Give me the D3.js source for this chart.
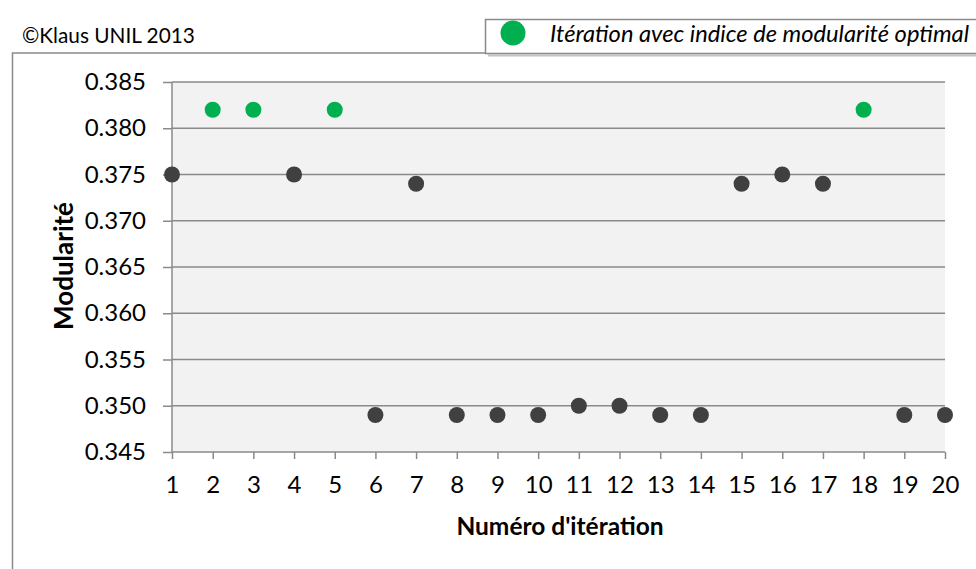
<!DOCTYPE html>
<html>
<head>
<meta charset="utf-8">
<script src="https://cdn.jsdelivr.net/npm/d3@7"></script>
<style>
  html, body { margin: 0; padding: 0; background: #fff; }
  svg { display: block; font-family: Lato, "Open Sans", sans-serif; }
</style>
</head>
<body>
<svg id="chart" width="976" height="569"></svg>
<script>
// Iteration numbers and modularity values
const iterations = [1,2,3,4,5,6,7,8,9,10,11,12,13,14,15,16,17,18,19,20];
const modularity = [0.375,0.382,0.382,0.375,0.382,0.349,0.374,0.349,0.349,0.349,
                    0.350,0.350,0.349,0.349,0.374,0.375,0.374,0.382,0.349,0.349];
// true where the iteration reached the optimal modularity
const optimal = [false,true,true,false,true,false,false,false,false,false,
                 false,false,false,false,false,false,false,true,false,false];
const yTicks = [0.345,0.350,0.355,0.360,0.365,0.370,0.375,0.380,0.385];

const svg = d3.select("#chart");
const plot = { left: 172, right: 945, top: 82, bottom: 452 };
const axisGrey = "#8a8a8a";

const x = d3.scaleLinear().domain([1, 20]).range([plot.left, plot.right]);
const y = d3.scaleLinear().domain([0.345, 0.385]).range([plot.bottom, plot.top]);

// chart frame
svg.append("path")
  .attr("d", "M12.5,569 V53 H486")
  .attr("fill", "none").attr("stroke", axisGrey).attr("stroke-width", 1.5);

// copyright
svg.append("text").attr("x", 22).attr("y", 43)
  .attr("font-size", 20.8).attr("fill", "#000").text("©Klaus UNIL 2013");

// legend box with a soft shadow underneath
const lg = svg.append("g");
lg.append("line").attr("x1", 488).attr("x2", 976).attr("y1", 55.5).attr("y2", 55.5)
  .attr("stroke", "#c4c4c4").attr("stroke-width", 2);
lg.append("rect").attr("x", 485.5).attr("y", 19.5).attr("width", 500).attr("height", 34)
  .attr("fill", "#fff").attr("stroke", axisGrey).attr("stroke-width", 1.5);
lg.append("circle").attr("cx", 513).attr("cy", 33).attr("r", 12.5).attr("fill", "#00b050");
lg.append("text").attr("x", 550).attr("y", 42)
  .attr("font-size", 23.7).attr("font-style", "italic").attr("fill", "#000")
  .text("Itération avec indice de modularité optimal");

// plot background
svg.append("rect").attr("x", plot.left).attr("y", plot.top)
  .attr("width", plot.right - plot.left).attr("height", plot.bottom - plot.top)
  .attr("fill", "#f2f2f2");

// horizontal gridlines
svg.append("g").selectAll("line").data(yTicks.slice(1)).join("line")
  .attr("x1", plot.left).attr("x2", plot.right)
  .attr("y1", d => y(d)).attr("y2", d => y(d))
  .attr("stroke", axisGrey).attr("stroke-width", 1.5);

// y axis
const yAxis = svg.append("g").attr("transform", `translate(${plot.left},0)`)
  .call(d3.axisLeft(y).tickValues(yTicks).tickFormat(d3.format(".3f"))
    .tickSize(9).tickPadding(17));
yAxis.select(".domain").attr("stroke", axisGrey).attr("stroke-width", 1.5)
  .attr("d", `M0,${plot.top}V${plot.bottom}`);
yAxis.selectAll(".tick line").attr("stroke", axisGrey).attr("stroke-width", 1.5);
yAxis.selectAll(".tick text").attr("font-size", 24).attr("fill", "#000")
  .attr("font-family", "Lato, sans-serif");

// x axis
const xAxis = svg.append("g").attr("transform", `translate(0,${plot.bottom})`)
  .call(d3.axisBottom(x).tickValues(iterations).tickFormat(d3.format("d"))
    .tickSize(7).tickPadding(17));
xAxis.select(".domain").attr("stroke", axisGrey).attr("stroke-width", 1.5)
  .attr("d", `M${plot.left},0H${plot.right}`);
xAxis.selectAll(".tick line").attr("stroke", axisGrey).attr("stroke-width", 1.5);
xAxis.selectAll(".tick text").attr("font-size", 24).attr("fill", "#000")
  .attr("font-family", "Lato, sans-serif");

// axis titles
svg.append("text").attr("x", 560).attr("y", 535).attr("text-anchor", "middle")
  .attr("font-size", 24.5).attr("font-weight", "bold").attr("fill", "#000")
  .text("Numéro d'itération");
svg.append("text").attr("transform", "translate(73,266) rotate(-90)")
  .attr("text-anchor", "middle")
  .attr("font-size", 26).attr("font-weight", "bold").attr("fill", "#000")
  .text("Modularité");

// points
svg.append("g").selectAll("circle").data(iterations).join("circle")
  .attr("cx", d => x(d))
  .attr("cy", (d, i) => y(modularity[i]))
  .attr("r", 8)
  .attr("fill", (d, i) => optimal[i] ? "#00b050" : "#404040");
</script>
</body>
</html>
